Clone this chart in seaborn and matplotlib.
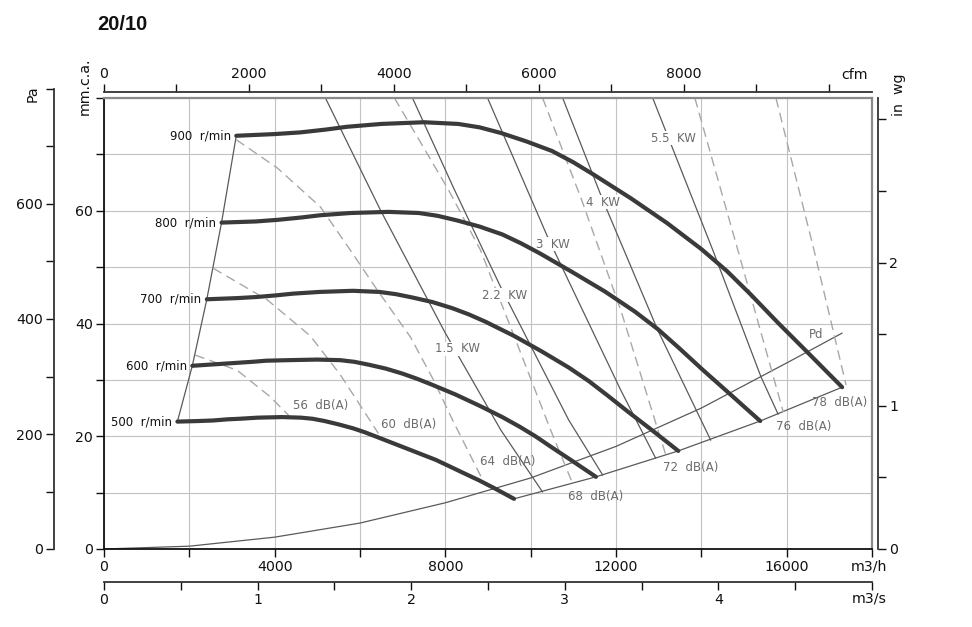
import matplotlib
matplotlib.use("Agg")
import matplotlib.pyplot as plt
import seaborn as sns
import pandas as pd

# fan curves: flow (m3/h) vs static pressure (mm.c.a.)
speeds = [500, 600, 700, 800, 900]
flow_500 = [1720, 2220, 2560, 2890, 3170, 3610, 4170, 4615, 4890, 5170, 5500, 5840, 6115,
            6390, 6865, 7340, 7780, 8115, 8420, 8785, 9170, 9610]
pres_500 = [22.6, 22.7, 22.8, 23.0, 23.1, 23.3, 23.4, 23.3, 23.1, 22.7, 22.1, 21.4, 20.7,
            19.9, 18.5, 17.1, 15.8, 14.6, 13.5, 12.2, 10.7, 8.9]
flow_600 = [2070, 2670, 3070, 3470, 3800, 4335, 5000, 5535, 5870, 6200, 6605, 7000, 7335,
            7670, 8240, 8805, 9335, 9740, 10110, 10540, 11000, 11530]
pres_600 = [32.5, 32.8, 33.0, 33.2, 33.4, 33.5, 33.6, 33.5, 33.2, 32.7, 32.0, 31.1, 30.2,
            29.2, 27.4, 25.4, 23.4, 21.7, 20.0, 17.8, 15.5, 12.8]
flow_700 = [2410, 3110, 3580, 4045, 4435, 5055, 5835, 6455, 6845, 7235, 7700, 8170, 8555,
            8945, 9610, 10270, 10890, 11360, 11790, 12290, 12840, 13460]
pres_700 = [44.3, 44.5, 44.7, 45.0, 45.3, 45.6, 45.8, 45.6, 45.2, 44.6, 43.8, 42.7, 41.6,
            40.3, 37.8, 35.0, 32.2, 29.8, 27.3, 24.3, 21.1, 17.4]
flow_800 = [2755, 3555, 4090, 4620, 5065, 5780, 6665, 7380, 7820, 8265, 8800, 9335, 9780,
            10225, 10980, 11735, 12445, 12980, 13470, 14045, 14670, 15380]
pres_800 = [57.9, 58.1, 58.4, 58.8, 59.2, 59.6, 59.8, 59.6, 59.1, 58.3, 57.2, 55.8, 54.2,
            52.4, 49.1, 45.7, 42.1, 39.0, 35.7, 31.7, 27.5, 22.7]
flow_900 = [3100, 4000, 4600, 5200, 5700, 6500, 7500, 8300, 8800, 9300, 9900, 10500, 11000,
            11500, 12350, 13200, 14000, 14600, 15150, 15800, 16500, 17300]
pres_900 = [73.3, 73.6, 73.9, 74.4, 74.9, 75.4, 75.7, 75.4, 74.8, 73.8, 72.3, 70.6, 68.6,
            66.3, 62.2, 57.8, 53.2, 49.3, 45.2, 40.1, 34.8, 28.7]

# absorbed power lines
kw_names = ["1.5 KW", "2.2 KW", "3 KW", "4 KW", "5.5 KW"]
kw_flow = [[5190, 6480, 8000, 9300, 10280],
           [7230, 8215, 9295, 10890, 11690],
           [8990, 10400, 12110, 12930],
           [10750, 11690, 12980, 14220],
           [12860, 14270, 15400, 15800]]
kw_pres = [[80, 60.1, 38.3, 21.1, 10.1],
           [80, 63.7, 46.5, 22.9, 13.1],
           [80, 55.3, 28.2, 16.1],
           [80, 61.9, 38.8, 19.3],
           [80, 53.0, 30.5, 23.9]]
kw_label_xy = [(8285, 35.5), (9390, 45.0), (10515, 54.1), (11690, 61.5), (13355, 72.9)]

# noise lines
db_names = ["56  dB(A)", "60  dB(A)", "64  dB(A)", "68  dB(A)", "72  dB(A)", "76  dB(A)", "78  dB(A)"]
db_flow = [[2136, 3122, 3896, 4366],
           [2558, 3826, 4835, 5539, 6431],
           [3100, 4060, 5070, 5774, 6408, 7182, 7722, 8168, 8872],
           [6807, 8074, 8825, 9647, 10468, 10984],
           [10280, 11196, 12111, 12933, 13167],
           [13848, 14857, 15920],
           [15749, 16641, 17392]]
db_pres = [[34.4, 31.7, 27.0, 23.4],
           [49.8, 44.2, 37.8, 30.9, 20.5],
           [72.6, 67.6, 60.7, 53.0, 45.9, 37.6, 30.0, 22.9, 12.3],
           [80, 63.7, 53.0, 37.1, 21.1, 11.6],
           [80, 61.9, 42.4, 22.3, 16.7],
           [80, 53.0, 24.3],
           [80, 53.0, 29.1]]
db_label_xy = [(5070, 25.4), (7135, 22.0), (9460, 15.6), (11525, 9.4),
               (13755, 14.5), (16405, 21.8), (17230, 25.9)]

# dynamic pressure
pd_flow = [0, 2000, 4000, 6000, 8000, 10000, 12000, 14000, 16000, 17300]
pd_pres = [0, 0.5, 2.1, 4.6, 8.2, 12.6, 18.2, 25.0, 33.0, 38.3]

sns.set_style("ticks")
plt.rcParams["font.family"] = ["DejaVu Sans"]

W, H = 972, 627
fig = plt.figure(figsize=(9.72, 6.27), dpi=100)


def box(x0, y0, x1, y1):
    # pixel box -> figure fraction
    return [x0 / W, 1 - y1 / H, (x1 - x0) / W, (y1 - y0) / H]


ax = fig.add_axes(box(104, 98, 872, 549))
ax.set_xlim(0, 18000)
ax.set_ylim(0, 80)
ax.set_xticks([0, 4000, 8000, 12000, 16000])
ax.set_xticks([2000, 6000, 10000, 14000, 18000], minor=True)
ax.set_yticks([0, 20, 40, 60])
ax.set_yticks([10, 30, 50, 70, 80], minor=True)
ax.grid(True, which="both", color="#c2c2c2", lw=0.8)
ax.set_axisbelow(True)
ax.tick_params(which="both", direction="out", length=6, width=1, pad=2,
               labelsize=10.2, bottom=True, left=True, colors="#111")
for s in ["left", "bottom"]:
    ax.spines[s].set_color("#111")
    ax.spines[s].set_linewidth(1.3)
for s in ["top", "right"]:
    ax.spines[s].set_color("#8a8a8a")
    ax.spines[s].set_linewidth(1.6)

# fan curves
flows = [flow_500, flow_600, flow_700, flow_800, flow_900]
press = [pres_500, pres_600, pres_700, pres_800, pres_900]
fan = pd.concat([pd.DataFrame({"flow": f, "pres": p, "speed": s})
                 for f, p, s in zip(flows, press, speeds)])

# boundaries of the curve field
left_edge = pd.DataFrame({"flow": [f[0] for f in flows], "pres": [p[0] for p in press]})
right_edge = pd.DataFrame({"flow": [f[-1] for f in flows], "pres": [p[-1] for p in press]})
sns.lineplot(data=left_edge, x="flow", y="pres", color="#5a5a5a", lw=0.9, ax=ax)
sns.lineplot(data=right_edge, x="flow", y="pres", color="#5a5a5a", lw=0.9, ax=ax)
sns.lineplot(x=pd_flow, y=pd_pres, color="#5a5a5a", lw=0.9, ax=ax)

kw = pd.concat([pd.DataFrame({"flow": f, "pres": p, "line": n})
                for f, p, n in zip(kw_flow, kw_pres, kw_names)])
sns.lineplot(data=kw, x="flow", y="pres", units="line", estimator=None,
             color="#5a5a5a", lw=0.9, ax=ax)

db = pd.concat([pd.DataFrame({"flow": f, "pres": p, "line": n})
                for f, p, n in zip(db_flow, db_pres, db_names)])
sns.lineplot(data=db, x="flow", y="pres", units="line", estimator=None,
             color="#a8a8a8", lw=1.0, linestyle=(0, (7, 4)), ax=ax)

sns.lineplot(data=fan, x="flow", y="pres", units="speed", estimator=None,
             color="#3a3a3a", lw=3, solid_joinstyle="round", zorder=4, ax=ax)
ax.set_xlabel("")
ax.set_ylabel("")

for f, p, s in zip(flows, press, speeds):
    ax.annotate(f"{s}  r/min", (f[0], p[0]), xytext=(-4, 0), textcoords="offset points",
                ha="right", va="center", fontsize=8.5, color="#111")

for (x, y), n in zip(kw_label_xy, kw_names):
    ax.text(x, y, n.replace(" ", "  "), ha="center", va="center", fontsize=8.5, color="#6b6b6b",
            zorder=3, bbox=dict(fc="white", ec="none", pad=0.3))
for (x, y), n in zip(db_label_xy, db_names):
    ax.text(x, y, n, ha="center", va="center", fontsize=8.5, color="#6b6b6b")
ax.text(16690, 38.1, "Pd", ha="center", va="center", fontsize=8.5, color="#6b6b6b")

# Pa scale
ax_pa = fig.add_axes(box(53.9, 89, 54, 549))
ax_pa.set_ylim(0, 800)
ax_pa.set_yticks([0, 200, 400, 600])
ax_pa.set_yticks([100, 300, 500, 700, 800], minor=True)
ax_pa.set_xticks([])
# in wg scale
ax_in = fig.add_axes(box(878, 98, 878.1, 549))
ax_in.set_ylim(0, 80 / 25.4)
ax_in.set_yticks([0, 1, 2])
ax_in.set_yticks([0.5, 1.5, 2.5, 3], minor=True)
ax_in.set_xticks([])
ax_in.yaxis.tick_right()
# cfm scale
ax_cfm = fig.add_axes(box(104, 91.9, 872, 92))
ax_cfm.set_xlim(0, 18000 / 1.699)
ax_cfm.set_xticks([0, 2000, 4000, 6000, 8000])
ax_cfm.set_xticks([1000, 3000, 5000, 7000, 9000, 10000], minor=True)
ax_cfm.set_yticks([])
ax_cfm.xaxis.tick_top()
# m3/s scale
ax_ms = fig.add_axes(box(104, 582, 872, 582.1))
ax_ms.set_xlim(0, 5)
ax_ms.set_xticks([0, 1, 2, 3, 4])
ax_ms.set_xticks([0.5, 1.5, 2.5, 3.5, 4.5, 5], minor=True)
ax_ms.set_yticks([])

for a, side in [(ax_pa, "left"), (ax_in, "right"), (ax_cfm, "top"), (ax_ms, "bottom")]:
    a.patch.set_visible(False)
    for s in a.spines:
        a.spines[s].set_visible(s == side)
    a.spines[side].set_linewidth(1.3)
    a.spines[side].set_color("#333")
    a.tick_params(which="both", direction="out", length=6, width=1, pad=2,
                  labelsize=10.2, colors="#111")

ax_pa.tick_params(left=True, labelleft=True)
ax_in.tick_params(right=True, labelright=True, left=False)
ax_cfm.tick_params(top=True, labeltop=True, bottom=False, labelbottom=False)
ax_ms.tick_params(bottom=True, labelbottom=True)


# unit labels
def label(x, y, s, **kw):
    fig.text(x / W, 1 - y / H, s, ha="center", va="center", fontsize=10.2, color="#111", **kw)


label(33, 94, "Pa", rotation=90)
label(85, 86, "mm.c.a.", rotation=90)
label(899, 95, "in  wg", rotation=90)
label(854, 75, "cfm")
label(869, 566, "m3/h")
label(869, 598, "m3/s")

fig.text(97 / W, 1 - 25 / H, "20/10", ha="left", va="center", fontsize=14.5,
         fontweight="bold", family="Liberation Sans", color="#111")

fig.savefig("out.png", dpi=100)
